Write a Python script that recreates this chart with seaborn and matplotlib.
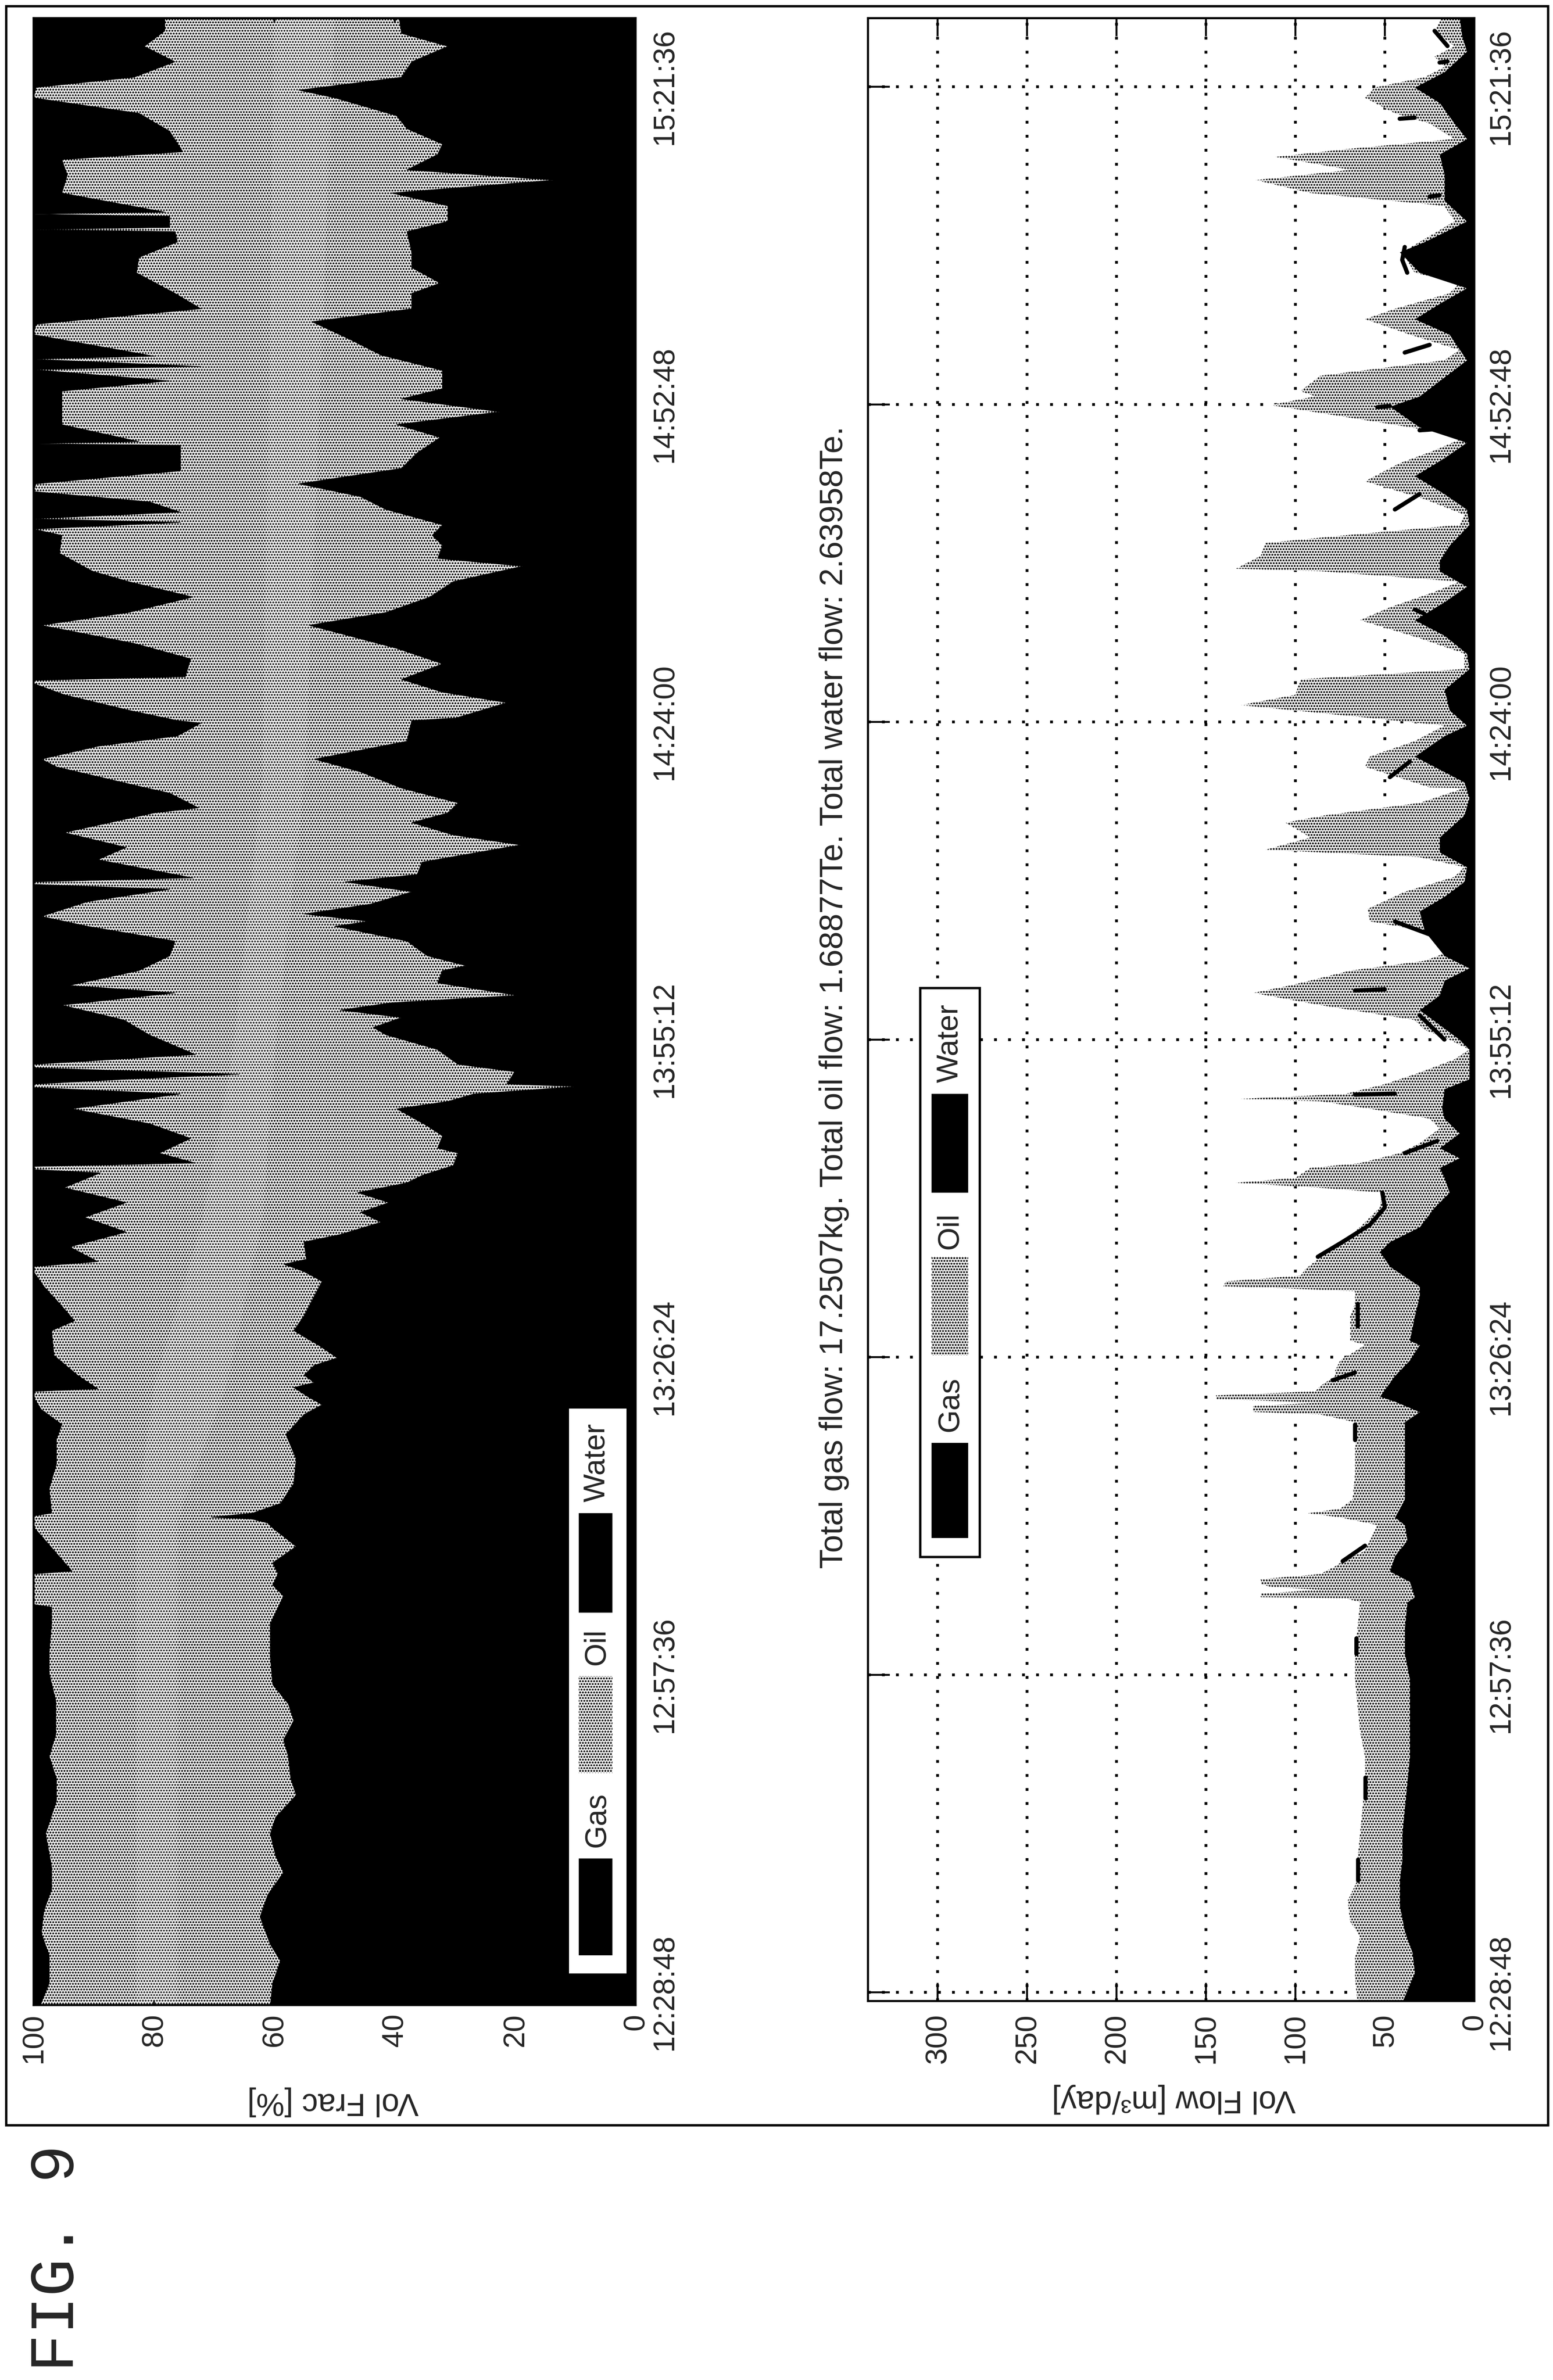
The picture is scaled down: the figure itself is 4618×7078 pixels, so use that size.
import numpy as np
import matplotlib
matplotlib.use("Agg")
import matplotlib.pyplot as plt
from matplotlib.patches import Rectangle
import seaborn as sns

sns.set_style("white")
plt.rcParams["font.family"] = ["Liberation Sans", "DejaVu Sans"]
plt.rcParams["hatch.linewidth"] = 0.8

# ---------------------------------
# DATA (time = minutes after 12:28:48)
# ---------------------------------

time_labels = ["12:28:48", "12:57:36", "13:26:24", "13:55:12", "14:24:00", "14:52:48", "15:21:36"]
frac_ticks = [0, 20, 40, 60, 80, 100]
flow_ticks = [0, 50, 100, 150, 200, 250, 300]
legend_names = ["Gas", "Oil", "Water"]
title_text = "Total gas flow: 17.2507kg. Total oil flow: 1.68877Te. Total water flow: 2.63958Te."

frac_water_t = [-1.2, 0.84, 2.84, 4.35, 6.85, 8.86, 10.87, 12.37, 14.37, 15.88, 17.88, 19.39, 21.39, 22.9, 24.65, 26.15,
    27.91, 30.42, 33.42, 35.93, 36.93, 37.94, 38.94, 40.44, 42.1, 42.55, 42.91, 43.09, 43.45, 44.34, 46.13, 48.37,
    50.6, 52.39, 53.29, 53.96, 54.85, 55.3, 55.97, 56.86, 57.53, 58.65, 60.0, 61.34, 63.13, 64.47, 65.36, 66.03,
    66.48, 68.05, 68.72, 69.84, 70.73, 71.62, 72.52, 73.41, 74.08, 74.98, 76.1, 76.55, 77.66, 78.56, 80.12, 80.79,
    81.47, 82.14, 82.36, 83.48, 84.15, 85.49, 86.83, 87.5, 88.4, 89.07, 89.74, 90.41, 91.53, 92.65, 93.1, 93.99,
    95.33, 96.67, 97.12, 97.79, 98.69, 99.8, 100.7, 101.37, 102.49, 104.05, 104.95, 106.07, 106.96, 107.86, 109.2,
    110.67, 111.83, 113.46, 115.33, 115.56, 116.95, 117.9, 119.06, 120.47, 121.87, 123.97, 125.13, 126.53, 127.93,
    129.33, 130.03, 131.2, 132.13, 133.07, 134.47, 135.63, 136.8, 138.2, 139.6, 141.0, 142.17, 143.33, 144.5, 145.43,
    147.07, 148.47, 149.87, 151.5, 152.67, 154.07, 155.0, 156.4, 157.8, 159.67, 160.6, 162.0, 163.17, 164.34, 165.27,
    166.67, 167.6, 169.0, 170.17, 171.8, 172.5, 173.67, 175.07, 176.47, 177.64, 179.1]
frac_water = [60.7, 60.3, 59.0, 60.7, 62.4, 61.1, 58.5, 59.8, 60.7, 59.8, 56.4, 57.3, 57.7, 58.5, 56.8, 57.7,
    60.3, 60.7, 60.7, 58.5, 60.3, 59.4, 60.3, 56.4, 60.3, 61.1, 63.7, 70.5, 63.7, 59.0, 56.8, 56.4,
    58.1, 55.1, 52.1, 54.3, 56.8, 53.4, 55.1, 53.4, 49.6, 52.6, 56.8, 55.1, 53.4, 52.1, 55.1, 58.5,
    54.7, 55.1, 49.1, 42.3, 45.7, 41.0, 46.2, 38.0, 35.5, 30.3, 29.5, 32.9, 32.1, 34.6, 39.7, 31.2,
    26.9, 9.8, 21.4, 20.1, 29.5, 32.9, 41.5, 43.6, 38.9, 49.1, 40.6, 19.7, 32.9, 32.1, 28.2, 34.6,
    38.0, 50.0, 44.4, 55.1, 44.0, 37.2, 48.3, 36.3, 35.5, 19.2, 30.3, 37.2, 31.2, 29.5, 38.9,
    45.7, 53.4, 38.0, 37.2, 29.9, 21.4, 32.1, 38.9, 32.1, 39.7, 54.3, 41.5, 34.2, 30.3,
    18.8, 32.9, 32.1, 33.8, 32.1, 41.5, 45.7, 56.0, 38.9, 36.3, 32.5, 39.7, 22.6, 38.9, 32.1,
    32.1, 42.3, 47.4, 53.8, 37.2, 37.2, 32.5, 37.2, 37.2, 38.0, 31.2, 31.2, 40.6, 13.7, 38.0,
    32.9, 32.1, 38.0, 39.7, 50.0, 56.0, 38.9, 37.2, 31.2, 38.9, 39.3]

frac_gas_t = [-1.2, 0.84, 3.35, 5.35, 7.36, 9.36, 11.37, 14.37, 17.38, 19.39, 21.39, 23.4, 26.41, 28.91, 30.92, 33.42,
    34.93, 35.18, 37.94, 38.19, 42.2, 43.2, 43.45, 45.68, 47.92, 50.15, 51.5, 52.84, 53.96, 54.49, 54.72, 55.97,
    57.76, 60.0, 60.89, 62.23, 64.02, 65.36, 65.81, 66.26, 67.6, 68.94, 70.28, 71.62, 72.97, 74.31, 74.62, 74.89,
    75.2, 76.1, 77.44, 78.78, 80.12, 81.47, 82.05, 82.36, 82.81, 83.26, 83.84, 84.15, 85.04, 86.83, 88.18, 89.52,
    90.63, 91.31, 92.65, 93.99, 95.33, 96.67, 97.57, 98.91, 100.03, 100.48, 100.7, 101.06, 102.71, 103.83, 105.17,
    106.96, 107.41, 108.75, 109.26, 111.13, 111.83, 113.0, 113.93, 115.1, 115.33, 116.27, 117.67, 118.69, 118.97,
    119.3, 120.93, 122.33, 123.97, 125.13, 126.53, 127.93, 128.87, 130.5, 132.13, 132.69, 133.3, 133.63, 134.23,
    135.17, 136.1, 136.8, 137.97, 139.6, 140.3, 140.44, 140.63, 142.17, 143.8, 145.2, 146.13, 147.16, 147.44, 148.1,
    148.37, 150.33, 151.27, 152.67, 154.07, 155.93, 157.33, 158.73, 159.67, 159.86, 160.04, 161.07, 161.26, 161.44,
    163.17, 164.8, 166.2, 166.9, 168.77, 170.4, 171.8, 172.74, 173.67, 175.07, 176.47, 177.87, 179.1]
frac_gas = [98.9, 97.4, 97.4, 98.7, 98.3, 97.0, 97.0, 98.0, 96.2, 96.2, 97.4, 96.3, 96.3, 97.4, 97.4, 97.0,
    97.0, 100, 100, 93.6, 100, 100, 97.0, 97.4, 96.2, 96.2, 95.3, 98.7, 100, 100, 89.3, 92.7,
    96.6, 97.0, 93.2, 95.3, 98.3, 100, 100, 89.3, 94.0, 84.6, 91.5, 84.6, 94.9, 88.9, 100, 100,
    73.1, 79.1, 73.9, 80.8, 93.6, 75.6, 100, 100, 84.2, 65.8, 100, 100, 73.1, 80.8, 85.0, 95.3,
    76.5, 94.0, 82.5, 77.4, 76.5, 91.0, 98.7, 91.0, 77.4, 100, 100, 73.5, 89.3, 84.6, 94.9,
    79.9, 72.6, 77.4, 81.6, 96.2, 98.7, 89.3, 76.1, 72.2, 76.1, 84.2, 94.9, 100, 100,
    74.8, 73.9, 83.3, 98.7, 84.2, 73.5, 84.2, 90.2, 95.7, 95.3, 100, 75.6, 100, 75.6,
    80.8, 100, 99.6, 75.6, 75.6, 75.6, 100, 82.5, 95.3, 95.3, 95.3, 77.4, 100, 72.2, 100,
    79.9, 100, 99.6, 72.2, 76.5, 82.9, 82.5, 76.1, 76.5, 100, 77.4, 77.4, 100, 78.2,
    95.3, 94.4, 95.3, 75.2, 77.4, 82.5, 100, 99.6, 83.3, 76.5, 81.6, 78.2, 78.2]

# paler streak running through the middle of the oil band
frac_pale_t = [-1.2, 43, 55, 70, 85, 110, 179.1]
frac_pale_low = [76, 76, 68, 62, 60, 55, 50]
frac_pale_high = [83, 83, 80, 72, 67, 62, 60]

flow_water_t = [-0.9, 1.76, 3.63, 5.5, 7.83, 10.16, 12.03, 14.36, 16.7, 19.03, 21.36, 23.7, 26.03, 28.36, 30.7, 33.03,
    35.37, 35.83, 37.23, 38.17, 39.57, 40.97, 42.37, 43.07, 44.7, 47.03, 49.37, 51.7, 52.63, 53.57, 54.03, 55.9, 57.3,
    58.7, 59.1, 61.34, 63.13, 64.02, 65.81, 67.15, 68.05, 69.39, 71.18, 72.52, 73.86, 74.76, 75.65, 76.55, 77.89,
    79.23, 80.12, 81.91, 82.81, 85.49, 86.39, 87.73, 89.07, 90.41, 91.75, 92.87, 93.99, 96.23, 98.02, 99.36, 100.7,
    102.04, 103.38, 104.73, 106.74, 108.3, 109.73, 112.06, 113.93, 114.87, 116.27, 118.13, 120.0, 121.4, 123.03,
    124.43, 126.07, 127.47, 128.87, 129.8, 131.2, 133.07, 134.47, 135.87, 137.5, 139.13, 140.53, 141.93, 143.8,
    144.73, 146.13, 148.0, 150.33, 151.73, 153.13, 154.54, 155.94, 157.8, 158.73, 160.6, 162.47, 164.8, 166.67,
    168.07, 169.47, 171.33, 172.74, 174.14, 176.0, 177.4, 179.1]
flow_water = [40.3, 33.3, 34.7, 38.9, 41.7, 41.7, 40.3, 40.3, 38.9, 37.5, 36.1, 36.1, 36.1, 36.1, 38.9, 38.9,
    37.5, 33.3, 36.1, 47.2, 44.4, 37.5, 38.9, 44.4, 38.9, 38.9, 38.9, 38.9, 30.6, 44.4, 52.8, 44.4, 36.1,
    30.6, 36.1, 33.3, 30.6, 30.6, 47.2, 52.8, 47.2, 30.6, 22.2, 13.9, 16.7, 19.4, 8.3, 19.4, 8.3,
    16.7, 18.1, 16.7, 2.8, 2.8, 8.3, 19.4, 30.6, 19.4, 16.7, 2.8, 16.7, 27.8, 30.6, 16.7, 5.6,
    4.2, 19.4, 19.4, 5.6, 2.8, 5.6, 33.3, 16.7, 4.2, 13.9, 16.7, 2.8, 4.2, 16.7,
    33.3, 16.7, 4.2, 19.4, 19.4, 13.9, 2.8, 4.2, 16.7, 33.3, 16.7, 4.2, 30.6, 47.2,
    30.6, 19.4, 4.2, 13.9, 33.3, 19.4, 4.2, 30.6, 41.7, 27.8, 4.2, 16.7, 16.7, 19.4,
    4.2, 11.1, 19.4, 33.3, 16.7, 4.2, 6.9, 8.3]

flow_oil_t = [-0.9, 1.3, 3.16, 5.03, 6.43, 8.3, 10.16, 12.03, 14.36, 16.7, 19.03, 21.36, 23.7, 26.03, 28.36, 30.7, 33.03,
    35.37, 35.74, 35.83, 36.16, 36.5, 36.77, 37.0, 37.47, 37.93, 38.63, 39.1, 40.03, 41.43, 42.37, 43.07, 43.44, 43.86,
    44.7, 47.03, 49.37, 50.77, 51.7, 52.4, 52.63, 53.19, 53.47, 53.8, 54.13, 54.5, 54.97, 55.9, 56.37, 57.3, 58.7,
    59.1, 61.34, 62.45, 63.57, 63.89, 64.02, 64.47, 65.0, 65.59, 66.48, 68.05, 69.39, 71.18, 72.52, 72.97, 73.41, 73.86,
    74.76, 75.2, 76.1, 76.99, 78.33, 79.23, 80.12, 80.8, 81.02, 81.47, 82.36, 83.25, 84.6, 85.49, 86.39, 87.28, 88.17,
    89.52, 90.63, 91.31, 92.65, 93.54, 94.88, 96.23, 97.12, 98.24, 99.8, 101.15, 102.04, 102.94, 103.61, 104.73, 106.07,
    106.74, 107.86, 109.2, 109.27, 111.13, 112.06, 113.47, 114.87, 115.56, 116.73, 117.67, 119.07, 120.0, 121.4, 122.8,
    124.43, 125.6, 127.0, 127.93, 128.87, 129.1, 130.27, 131.43, 132.13, 133.07, 134.0, 135.4, 137.03, 138.67, 139.83,
    141.0, 141.93, 143.94, 144.73, 145.2, 146.6, 148.0, 148.93, 150.33, 151.73, 152.67, 154.07, 155.0, 155.93, 157.8,
    158.73, 160.6, 162.0, 163.17, 164.34, 165.27, 166.44, 167.14, 168.07, 169.47, 170.4, 171.8, 172.74, 173.67, 174.6,
    175.54, 176.47, 177.87, 179.1]
flow_oil = [65.3, 66.7, 66.7, 63.9, 69.4, 70.8, 65.3, 65.3, 63.9, 62.5, 61.1, 61.1, 63.9, 65.3, 66.7, 66.7, 65.3,
    63.9, 72, 119.4, 119.4, 86.1, 113.9, 119, 119.4, 86.1, 77.8, 73.6, 61.1, 56.9, 54.2, 75, 93, 75,
    68, 66.7, 66.7, 65.3, 66.7, 86.1, 123.6, 123.6, 86.1, 144.4, 144.4, 88.9, 86.1, 77.8, 77.8, 75, 61.1,
    69.4, 69.4, 66.7, 66.7, 113.9, 140.3, 138.9, 97, 94.4, 87.5, 73.6, 63.9, 52.8, 51.4, 87.5, 133.3, 100,
    91.7, 63.9, 41.7, 30.6, 19.4, 25, 58.3, 86, 130.6, 72.2, 50, 33.3, 11.1, 2.8, 13.9, 27.8, 33.3,
    86.1, 123.6, 102.8, 69.4, 27.8, 5.6, 27.8, 58.3, 59.7, 38.9, 11.1, 5.6, 30.6, 116.7, 91.7, 105.6,
    83.3, 30.6, 5.6, 25, 61.1, 58.3, 33.3, 16.7, 58.3, 130.6, 100, 97.2, 5.6, 5.6, 30.6,
    63.9, 47.2, 22.2, 8.3, 86.1, 133.3, 119.4, 116.7, 72.2, 8.3, 5.6, 27.8, 61.1, 41.7, 22.2,
    5.6, 36.1, 113.9, 88.9, 97.2, 86.1, 16.7, 8.3, 36.1, 61.1, 44.4, 13.9, 8.3, 33.3, 40.3,
    30.6, 11.1, 16.7, 91.7, 122.2, 69.4, 111.1, 72.2, 11.1, 25, 44.4, 61.1, 55.6, 27.8, 16.7,
    22.2, 11.1, 22.2, 18.1]

gas_blob_id = [1, 1, 1, 1, 1, 2, 2, 3, 3, 4, 4, 5, 5, 6, 6, 7, 7, 8, 8, 9, 9, 10, 10, 11, 11, 12, 12, 13, 13,
    14, 14, 15, 15, 16, 16, 17, 17, 18, 18, 19, 19, 19, 20, 20, 21, 21, 22, 22, 23, 23, 24, 24]
gas_blob_t = [66.7, 68.05, 69.61, 71.18, 72.52, 81.4, 81.5, 90.85, 90.95, 88.6, 86.4, 97.1, 95.1, 76.1, 77.2, 55.5, 56.2,
    60.4, 62.45, 50.1, 51.5, 39.1, 40.5, 10.16, 12.03, 17.6, 19.5, 30.7, 32.1,
    110.2, 111.6, 125.4, 125.0, 134.47, 135.87, 148.7, 149.4, 141.65, 141.75, 155.94, 157.1, 158.27, 143.75, 143.85,
    169.9, 170.0, 162.85, 162.95, 175.0, 175.1, 176.5, 177.87]
gas_blob_q = [87.5, 73.6, 58.3, 50, 51.4, 66.7, 44.4, 66.7, 50, 30.6, 16.7, 44.4, 11.1, 38.9, 20.8, 79.2, 66.7,
    65.3, 65.3, 66.7, 66.7, 73.6, 61.1, 65, 65, 61, 61, 66, 66,
    47.2, 36.1, 33.3, 27.8, 44.4, 30.6, 38.9, 25, 30.6, 22.2, 37.5, 40.3, 38.9, 54.2, 47.2,
    41.7, 33.3, 25, 19.4, 19.4, 15, 15, 22.2]

OIL_HATCH = "**"
W, H = 4618, 7078

# ---------------------------------
# FIGURE + AXES (page is rotated, so time runs up the y axis)
# ---------------------------------

fig = plt.figure(figsize=(W / 100, H / 100), dpi=100, facecolor="white")


def box(x0, y0, x1, y1):
    return [x0 / W, 1 - y1 / H, (x1 - x0) / W, (y1 - y0) / H]


def time_to_limits(y_bottom, y_top):
    return (5925 - y_bottom) * 0.030493, (5925 - y_top) * 0.030493


def style_axes(ax, ticks, xlim, ylim, xpad, ypad, xlen, ylen):
    ax.set_xlim(*xlim)
    ax.set_ylim(*ylim)
    ax.set_xticks(ticks)
    ax.set_xticklabels([str(v) for v in ticks], rotation=90, ha="center", va="top", fontsize=64)
    ax.set_yticks(np.arange(len(time_labels)) * 28.8)
    ax.set_yticklabels(time_labels, rotation=90, ha="left", va="center", fontsize=64)
    ax.yaxis.tick_right()
    ax.tick_params(axis="x", direction="in", length=xlen, width=4, pad=xpad, top=True, bottom=True, color="black")
    ax.tick_params(axis="y", direction="in", length=ylen, width=4, pad=ypad, left=True, right=True, color="black")
    ax.set_xlabel("")
    ax.set_ylabel("")
    for s in ax.spines.values():
        s.set_visible(True)
        s.set_color("black")
        s.set_linewidth(4.5)


# ---------------------------------
# VOLUME FRACTION
# ---------------------------------

ax1 = fig.add_axes(box(100, 54, 1890, 5963))
ax1.patch.set_facecolor("white")
ax1.patch.set_edgecolor("black")
ax1.patch.set_hatch(OIL_HATCH)
ax1.fill_betweenx(frac_pale_t, frac_pale_low, frac_pale_high, color="white", alpha=0.12, lw=0)
ax1.fill_betweenx(frac_water_t, 0, frac_water, color="black", lw=0)
ax1.fill_betweenx(frac_gas_t, frac_gas, 100, color="black", lw=0)
sns.lineplot(x=frac_water, y=frac_water_t, orient="y", estimator=None, color="black", lw=1, ax=ax1)
sns.lineplot(x=frac_gas, y=frac_gas_t, orient="y", estimator=None, color="black", lw=1, ax=ax1)
style_axes(ax1, frac_ticks, (100, 0), time_to_limits(5963, 54), 18, 32, 10, 10)

# ---------------------------------
# VOLUME FLOW
# ---------------------------------

ax2 = fig.add_axes(box(2581, 54, 4384, 5951))
ax2.set_facecolor("white")
ax2.set_axisbelow(True)
ax2.grid(True, color="black", linestyle=(0, (1, 4)), linewidth=6)
ax2.fill_betweenx(flow_oil_t, 0, flow_oil, facecolor="white", edgecolor="black", hatch=OIL_HATCH, lw=0)
ax2.fill_betweenx(flow_water_t, 0, flow_water, color="black", lw=0)
sns.lineplot(x=gas_blob_q, y=gas_blob_t, units=gas_blob_id, orient="y", estimator=None, color="black", lw=9, ax=ax2)
style_axes(ax2, flow_ticks, (339, 0), time_to_limits(5951, 54), 27, 27, 39, 47)

# ---------------------------------
# PAGE TEXT, LEGENDS, FRAME
# ---------------------------------

page = fig.add_axes([0, 0, 1, 1], zorder=10)
page.set_xlim(0, W)
page.set_ylim(H, 0)
page.axis("off")
page.patch.set_alpha(0)

page.add_patch(Rectangle((18, 18), 4585, 6302, fill=False, edgecolor="black", lw=5))

page.text(990, 6250, "Vol Frac [%]", rotation=180, ha="center", va="center", fontsize=68)
page.text(3490, 6243, "Vol Flow [m³/day]", rotation=180, ha="center", va="center", fontsize=68)
page.text(2480, 2966, title_text, rotation=90, ha="center", va="center", fontsize=69)
page.text(170, 6717, "FIG. 9", rotation=90, ha="center", va="center", fontsize=135, family="Liberation Mono")


def draw_legend(frame, swatches, labels, text_x, border):
    x0, y0, x1, y1 = frame
    page.add_patch(Rectangle((x0, y0), x1 - x0, y1 - y0, facecolor="white",
                             edgecolor="black" if border else "white", lw=5))
    for (sx0, sy0, sx1, sy1), name in zip(swatches, legend_names):
        if name == "Oil":
            page.add_patch(Rectangle((sx0, sy0), sx1 - sx0, sy1 - sy0, facecolor="white",
                                     edgecolor="black", hatch=OIL_HATCH, lw=0))
        else:
            page.add_patch(Rectangle((sx0, sy0), sx1 - sx0, sy1 - sy0, facecolor="black", edgecolor="none"))
    for y, name in zip(labels, legend_names):
        page.text(text_x, y, name, rotation=90, ha="center", va="center", fontsize=64)


draw_legend((1695, 4192, 1859, 5865),
            [(1721, 5527, 1821, 5815), (1721, 4985, 1821, 5273), (1721, 4500, 1821, 4796)],
            [5412, 4898, 4350], 1775, False)
draw_legend((2736, 2938, 2913, 4630),
            [(2770, 4291, 2879, 4574), (2770, 3738, 2879, 4031), (2770, 3253, 2879, 3547)],
            [4177, 3661, 3103], 2825, True)

fig.savefig("out.png", dpi=100)
